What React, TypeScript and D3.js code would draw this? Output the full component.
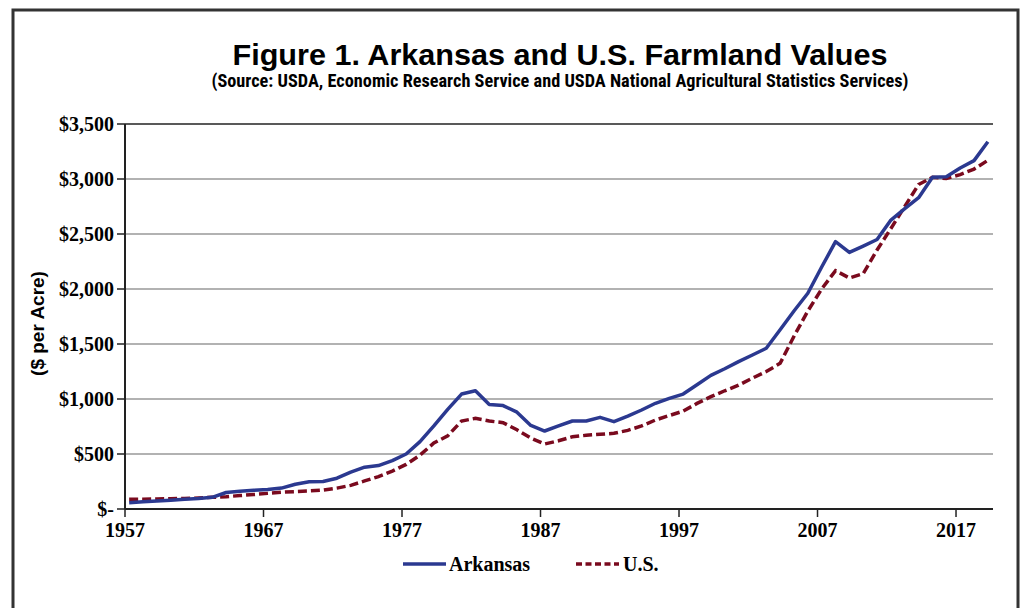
import React from 'react';
import * as d3 from 'd3';

const years = d3.range(1957, 2020);

const arkansas = [
  57, 65, 72, 80, 88, 95, 106, 150, 162, 170,
  178, 190, 225, 248, 250, 280, 335, 380, 395, 440,
  500, 612, 755, 905, 1045, 1075, 951, 940, 880, 760,
  709, 755, 800, 800, 833, 794, 845, 900, 961, 1005,
  1045, 1130, 1215, 1275, 1340, 1400, 1461, 1630, 1800, 1961,
  2200, 2430, 2333, 2390, 2450, 2627, 2730, 2830, 3015, 3021,
  3100, 3167, 3339,
];

const us = [
  88, 89, 91, 93, 96, 100, 106, 112, 122, 132,
  142, 152, 158, 164, 172, 190, 215, 255, 295, 345,
  405, 490, 600, 665, 800, 824, 800, 785, 720, 645,
  591, 620, 657, 670, 680, 688, 715, 755, 809, 850,
  890, 960, 1021, 1075, 1125, 1190, 1250, 1324, 1570, 1800,
  2000, 2167, 2100, 2140, 2355, 2550, 2750, 2950, 3015, 3005,
  3040, 3090, 3170,
];

const yTicks = [0, 500, 1000, 1500, 2000, 2500, 3000, 3500];
const xTicks = [1957, 1967, 1977, 1987, 1997, 2007, 2017];

const BLUE = '#2b3990';
const RED = '#7a0a1e';

const App: React.FC = () => {
  const width = 1021;
  const height = 608;
  const plot = { left: 125, right: 993, top: 124, bottom: 509 };

  const x = d3.scaleLinear().domain([1957, 2019.67]).range([plot.left, plot.right]);
  const y = d3.scaleLinear().domain([0, 3500]).range([plot.bottom, plot.top]);

  // points sit a bit right of the year tick, like the original
  const offset = 0.3;
  const line = d3.line<number>()
    .x((_, i) => x(years[i] + offset))
    .y(d => y(d));

  const fmt = (v: number) => (v === 0 ? '$-' : '$' + d3.format(',')(v));

  return (
    <>
      <style>{'body{margin:0}'}</style>
      <svg width={width} height={height} style={{ display: 'block', background: '#fff' }}>
        <rect x={13} y={10} width={1005} height={620} fill="none" stroke="#333" strokeWidth={3} />

        <text x={560} y={65} textAnchor="middle" fontFamily="'Liberation Sans', Arial, sans-serif"
          fontWeight="bold" fontSize={30} textLength={655} lengthAdjust="spacingAndGlyphs" fill="#000">
          Figure 1. Arkansas and U.S. Farmland Values
        </text>
        <text x={560} y={87} textAnchor="middle" fontFamily="'Liberation Sans Narrow', 'Roboto Condensed', 'Liberation Sans', sans-serif"
          fontWeight="bold" fontSize={18} textLength={697} lengthAdjust="spacingAndGlyphs" fill="#000">
          (Source: USDA, Economic Research Service and USDA National Agricultural Statistics Services)
        </text>

        {/* gridlines */}
        {yTicks.filter(t => t > 0).map(t => (
          <line key={t} x1={plot.left} x2={plot.right} y1={y(t)} y2={y(t)}
            stroke={t === 3500 ? '#222' : '#999'} strokeWidth={1.5} />
        ))}

        {/* y axis */}
        <line x1={plot.left} x2={plot.left} y1={plot.top} y2={plot.bottom} stroke="#222" strokeWidth={2} />
        {yTicks.map(t => (
          <g key={t}>
            <line x1={plot.left - 8} x2={plot.left} y1={y(t)} y2={y(t)} stroke="#222" strokeWidth={1.5} />
            <text x={plot.left - 11} y={y(t)} dy="0.35em" textAnchor="end"
              fontFamily="'Liberation Serif', 'Times New Roman', serif" fontWeight="bold" fontSize={20} fill="#000">
              {fmt(t)}
            </text>
          </g>
        ))}

        {/* x axis */}
        <line x1={plot.left} x2={plot.right} y1={plot.bottom} y2={plot.bottom} stroke="#222" strokeWidth={2} />
        {xTicks.map(t => (
          <g key={t}>
            <line x1={x(t)} x2={x(t)} y1={plot.bottom} y2={plot.bottom + 8} stroke="#222" strokeWidth={1.5} />
            <text x={x(t)} y={537} textAnchor="middle"
              fontFamily="'Liberation Serif', 'Times New Roman', serif" fontWeight="bold" fontSize={20} fill="#000">
              {t}
            </text>
          </g>
        ))}

        <text transform={`translate(44,${(plot.top + plot.bottom) / 2 + 7}) rotate(-90)`} textAnchor="middle"
          fontFamily="'Liberation Sans', Arial, sans-serif" fontWeight="bold" fontSize={19} fill="#000">
          ($ per Acre)
        </text>

        {/* series */}
        <path d={line(us) || ''} fill="none" stroke={RED} strokeWidth={3.5} strokeDasharray="9,4" />
        <path d={line(arkansas) || ''} fill="none" stroke={BLUE} strokeWidth={3.5} strokeLinejoin="round" />

        {/* legend */}
        <line x1={403} x2={446} y1={564} y2={564} stroke={BLUE} strokeWidth={3.5} />
        <text x={449} y={571} fontFamily="'Liberation Serif', 'Times New Roman', serif" fontWeight="bold" fontSize={20} fill="#000">
          Arkansas
        </text>
        <line x1={576} x2={619} y1={564} y2={564} stroke={RED} strokeWidth={3.5} strokeDasharray="6,3.5" />
        <text x={623} y={571} fontFamily="'Liberation Serif', 'Times New Roman', serif" fontWeight="bold" fontSize={20} fill="#000">
          U.S.
        </text>
      </svg>
    </>
  );
};

export default App;
